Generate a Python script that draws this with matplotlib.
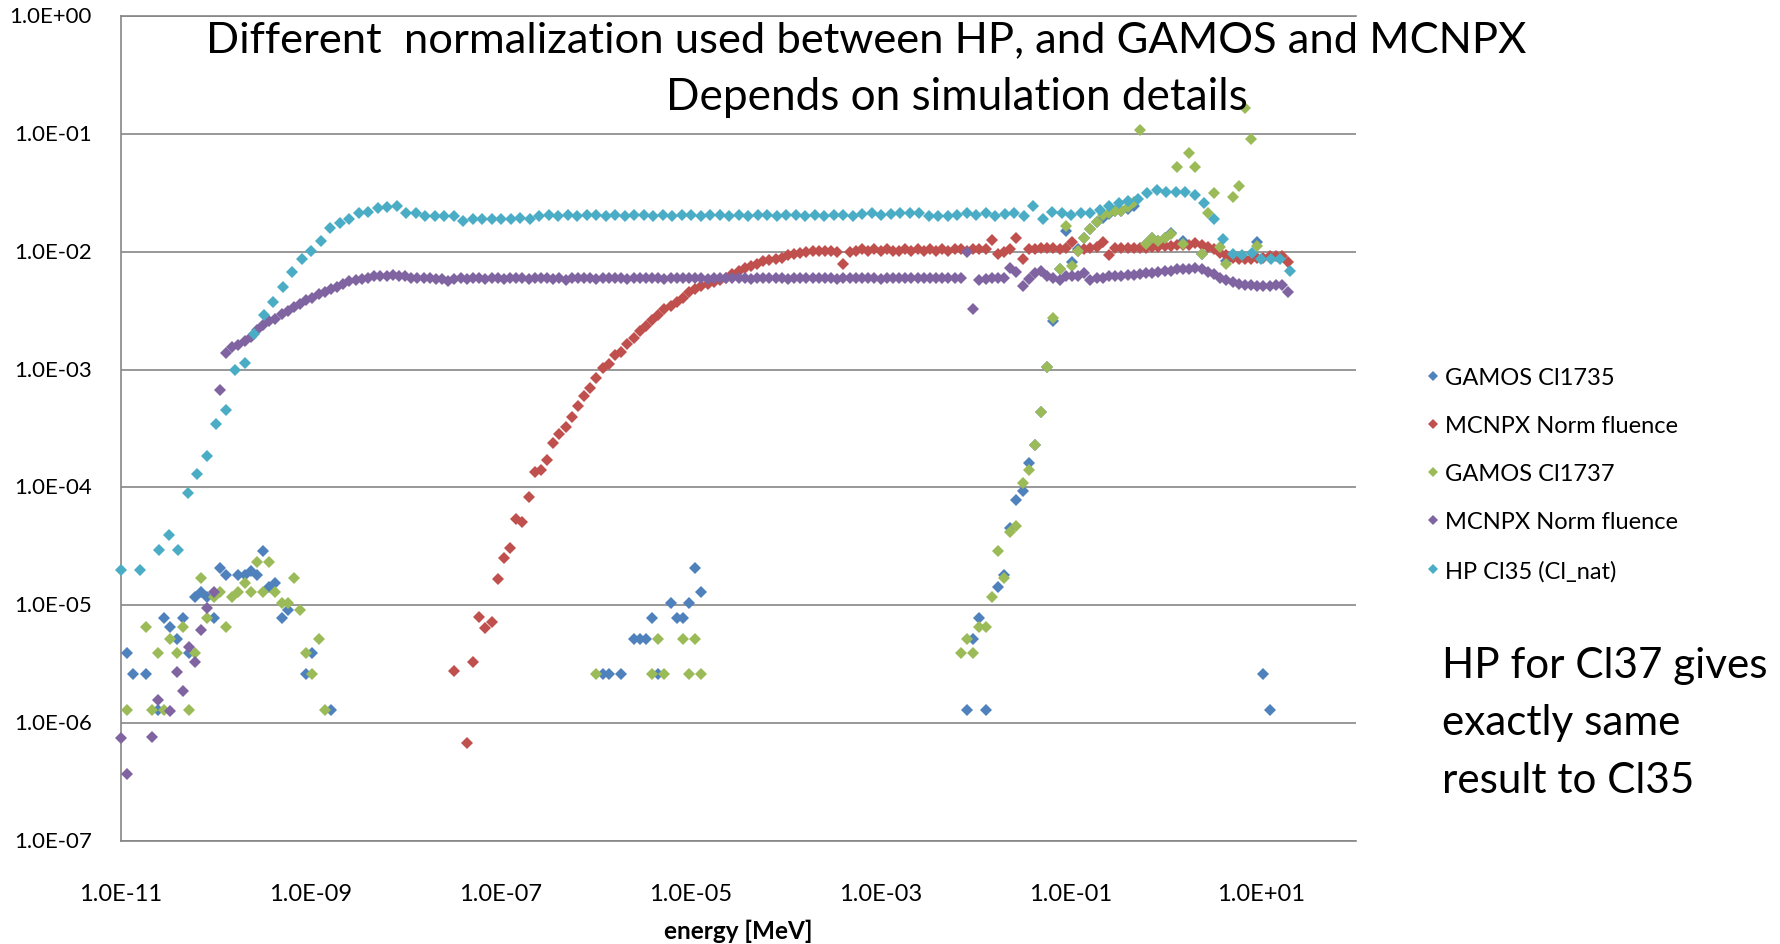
import numpy as np
import matplotlib
matplotlib.use("Agg")
import matplotlib.pyplot as plt
from matplotlib.ticker import FixedLocator, FuncFormatter, NullLocator

plt.rcParams['font.family'] = ['Lato', 'DejaVu Sans']

# ---------------- data ----------------
# GAMOS / MCNPX energy bins: log10(E / MeV) = -11 + 0.065 * bin
bin_log_start = -11.0
bin_log_width = 0.065
# HP energy bins: log10(E / MeV) = -11 + 0.1 * bin
hp_log_start = -11.0
hp_log_width = 0.1

gamos35_bins = [1, 2, 4, 6, 7, 8, 9, 10, 11, 12, 13, 14, 15, 16, 17, 19, 20, 21, 22, 23,
                24, 25, 26, 27, 30, 31, 34,
                78, 79, 81, 83, 84, 85, 86, 87, 89, 90, 91, 92, 93, 94,
                137, 138, 139, 140, 142, 143, 144, 145, 146, 147, 148, 149, 150, 151,
                152, 153, 154, 155, 156, 157, 158, 159, 160, 161, 162, 163, 164,
                166, 167, 168, 169, 170, 172, 175, 179, 184, 185, 186]
gamos35_vals = [3.9e-6, 2.6e-6, 2.6e-6, 1.3e-6, 7.8e-6, 6.5e-6, 5.2e-6, 7.8e-6, 3.9e-6, 1.17e-5,
                1.3e-5, 1.17e-5, 7.8e-6, 2.08e-5, 1.82e-5, 1.82e-5, 1.82e-5, 1.95e-5, 1.82e-5, 2.86e-5,
                1.43e-5, 1.56e-5, 7.8e-6, 9.1e-6, 2.6e-6, 3.9e-6, 1.3e-6,
                2.6e-6, 2.6e-6, 2.6e-6, 5.2e-6, 5.2e-6, 5.2e-6, 7.8e-6, 2.6e-6, 1.04e-5, 7.8e-6,
                7.8e-6, 1.04e-5, 2.08e-5, 1.3e-5,
                1.3e-6, 5.2e-6, 7.8e-6, 1.3e-6, 1.43e-5, 1.82e-5, 4.5e-5, 7.8e-5, 9.3e-5, 1.6e-4,
                2.3e-4, 4.4e-4, 1.05e-3, 2.6e-3,
                7.2e-3, 1.5e-2, 8.1e-3, 1.05e-2, 1.3e-2, 1.55e-2, 1.8e-2, 1.95e-2, 2.1e-2, 2.2e-2,
                2.2e-2, 2.3e-2, 2.45e-2,
                1.17e-2, 1.3e-2, 1.23e-2, 1.3e-2, 1.45e-2, 1.23e-2, 9.5e-3, 8.3e-3, 1.2e-2, 2.6e-6,
                1.3e-6]

gamos37_bins = [1, 4, 5, 6, 7, 8, 9, 10, 11, 12, 13, 14, 15, 16, 17, 18, 19, 20, 21, 22,
                23, 24, 25, 26, 27, 28, 29, 30, 31, 32, 33,
                77, 86, 87, 88, 91, 92, 93, 94,
                136, 137, 138, 139, 140, 141, 142, 143, 144, 145, 146, 147, 148, 149, 150,
                151, 152, 153, 154, 155, 156, 157, 158, 159, 160, 161, 162, 163, 164, 165,
                166, 167, 168, 169, 170, 171, 172, 173, 174, 175, 176, 177, 178, 179, 180,
                181, 182, 183, 184]
gamos37_vals = [1.3e-6, 6.5e-6, 1.3e-6, 3.9e-6, 1.3e-6, 5.2e-6, 3.9e-6, 6.5e-6, 1.3e-6, 3.9e-6,
                1.69e-5, 7.8e-6, 1.17e-5, 1.3e-5, 6.5e-6, 1.17e-5, 1.3e-5, 1.56e-5, 1.3e-5, 2.34e-5,
                1.3e-5, 2.34e-5, 1.3e-5, 1.04e-5, 1.04e-5, 1.69e-5, 9.1e-6, 3.9e-6, 2.6e-6, 5.2e-6,
                1.3e-6,
                2.6e-6, 2.6e-6, 5.2e-6, 2.6e-6, 5.2e-6, 2.6e-6, 5.2e-6, 2.6e-6,
                3.9e-6, 5.2e-6, 3.9e-6, 6.5e-6, 6.5e-6, 1.17e-5, 2.86e-5, 1.69e-5, 4.2e-5, 4.7e-5,
                1.1e-4, 1.4e-4, 2.3e-4, 4.4e-4, 1.05e-3,
                2.75e-3, 7.2e-3, 1.65e-2, 7.6e-3, 1.02e-2, 1.3e-2, 1.55e-2, 1.8e-2, 2.05e-2, 2.15e-2,
                2.2e-2, 2.2e-2, 2.4e-2, 2.65e-2, 1.07e-1,
                1.17e-2, 1.3e-2, 1.23e-2, 1.3e-2, 1.4e-2, 5.2e-2, 1.17e-2, 6.9e-2, 5.2e-2, 9.5e-3,
                2.15e-2, 3.15e-2, 1.1e-2, 7.8e-3, 2.9e-2,
                3.6e-2, 1.66e-1, 9.1e-2, 1.12e-2]

# MCNPX (Cl35 normalised fluence), log10 values, bins 54 .. 189
mcnpx_a_first_bin = 54
mcnpx_a_log10 = [
    -5.56, None, -6.17, -5.48, -5.10, -5.19,
    -5.14, -4.78, -4.60, -4.51, -4.27, -4.29, -4.08, -3.87, -3.85, -3.77,
    -3.62, -3.55, -3.49, -3.40, -3.31, -3.22, -3.16, -3.07, -2.99, -2.95,
    -2.88, -2.85, -2.78, -2.73, -2.67, -2.63, -2.58, -2.54, -2.49, -2.46,
    -2.43, -2.39, -2.34, -2.32, -2.29, -2.27, -2.26, -2.24, -2.22, -2.19,
    -2.16, -2.14, -2.12, -2.10, -2.08, -2.07, -2.06, -2.05, -2.03, -2.02,
    -2.01, -2.00, -1.99, -1.99, -1.99, -1.99, -2.00, -2.10, -2.00, -1.99,
    -1.98, -1.99, -1.98, -1.99, -1.98, -1.99, -1.99, -1.98, -1.99, -1.98,
    -1.99, -1.98, -1.99, -1.98, -1.99, -1.98, -1.98, -1.99, -1.98, -1.98,
    -1.98, -1.90, -2.02, -2.00, -1.98, -1.88, -2.06, -1.98, -1.98, -1.97,
    -1.97, -1.97, -1.98, -1.97, -1.92, -1.99, -1.98, -1.97, -1.96, -1.92,
    -2.03, -1.97, -1.97, -1.97, -1.97, -1.97, -1.97, -1.96, -1.96, -1.95,
    -1.95, -1.94, -1.94, -1.94, -1.93, -1.94, -1.96, -1.98, -2.01, -2.03,
    -2.05, -2.06, -2.06, -2.06, -2.05, -2.05, -2.04, -2.04, -2.04, -2.09]

# MCNPX (second normalised fluence), log10 values, bins 0 .. 189
mcnpx_b_first_bin = 0
mcnpx_b_log10 = [
    -6.13, -6.43, None, None, None, -6.12, -5.80, None, -5.90, -5.57,
    -5.73, -5.35, -5.48, -5.21, -5.02, -4.89, -3.17, -2.86, -2.81, -2.79,
    -2.76, -2.72, -2.66, -2.62, -2.59, -2.57, -2.53, -2.50, -2.47, -2.44,
    -2.41, -2.39, -2.36, -2.34, -2.32, -2.30, -2.27, -2.25, -2.24, -2.23,
    -2.22, -2.21, -2.21, -2.21, -2.20, -2.21, -2.21, -2.22, -2.22, -2.22,
    -2.22, -2.23, -2.23, -2.25, -2.23, -2.22, -2.23, -2.22, -2.22, -2.23,
    -2.22, -2.22, -2.23, -2.22, -2.22, -2.22, -2.23, -2.22, -2.22, -2.22,
    -2.23, -2.22, -2.24, -2.22, -2.22, -2.22, -2.22, -2.23, -2.22, -2.22,
    -2.22, -2.22, -2.23, -2.22, -2.22, -2.22, -2.22, -2.22, -2.23, -2.22,
    -2.22, -2.22, -2.22, -2.22, -2.22, -2.23, -2.22, -2.22, -2.22, -2.22,
    -2.22, -2.22, -2.23, -2.22, -2.22, -2.22, -2.22, -2.22, -2.23, -2.22,
    -2.22, -2.22, -2.22, -2.22, -2.22, -2.22, -2.23, -2.22, -2.22, -2.22,
    -2.22, -2.22, -2.22, -2.23, -2.22, -2.22, -2.22, -2.22, -2.22, -2.22,
    -2.22, -2.22, -2.22, -2.22, -2.22, -2.22, -2.22, -2.00, -2.49, -2.24,
    -2.23, -2.22, -2.22, -2.22, -2.14, -2.17, -2.29, -2.23, -2.18, -2.16,
    -2.21, -2.22, -2.24, -2.21, -2.21, -2.21, -2.18, -2.24, -2.22, -2.22,
    -2.21, -2.21, -2.21, -2.20, -2.20, -2.19, -2.18, -2.18, -2.17, -2.16,
    -2.16, -2.15, -2.15, -2.15, -2.14, -2.15, -2.17, -2.19, -2.22, -2.24,
    -2.26, -2.27, -2.28, -2.28, -2.29, -2.29, -2.29, -2.28, -2.28, -2.34]

# HP Cl35 (Cl_nat), log10 values, HP bins 0 .. 123
hp_log10 = [
    -4.70, None, -4.70, None, -4.53, -4.40, -4.53, -4.05, -3.89, -3.73,
    -3.46, -3.34, -3.00, -2.94, -2.70, -2.54, -2.43, -2.30, -2.17, -2.06,
    -1.99, -1.91, -1.80, -1.76, -1.72, -1.67, -1.66, -1.63, -1.62, -1.61,
    -1.67, -1.67, -1.70, -1.70, -1.70, -1.70, -1.74, -1.72, -1.72, -1.72,
    -1.72, -1.72, -1.71, -1.72, -1.70, -1.69, -1.70, -1.69, -1.70, -1.69,
    -1.69, -1.70, -1.69, -1.70, -1.69, -1.69, -1.70, -1.69, -1.70, -1.69,
    -1.69, -1.70, -1.69, -1.69, -1.70, -1.69, -1.70, -1.69, -1.69, -1.70,
    -1.69, -1.69, -1.70, -1.69, -1.70, -1.69, -1.69, -1.70, -1.68, -1.67,
    -1.69, -1.68, -1.67, -1.67, -1.67, -1.70, -1.70, -1.70, -1.69, -1.67,
    -1.69, -1.67, -1.70, -1.68, -1.67, -1.70, -1.61, -1.72, -1.66, -1.67,
    -1.69, -1.67, -1.67, -1.65, -1.61, -1.59, -1.57, -1.55, -1.50, -1.48,
    -1.49, -1.49, -1.49, -1.52, -1.59, -1.72, -1.89, -2.02, -2.03, -2.01,
    -2.06, -2.06, -2.06, -2.16]

series_labels = ['GAMOS Cl1735', 'MCNPX Norm fluence', 'GAMOS Cl1737',
                 'MCNPX Norm fluence', 'HP Cl35 (Cl_nat)']
series_colors = ['#4F81BD', '#C0504D', '#9BBB59', '#8064A2', '#4BACC6']

x_tick_exponents = [-11, -9, -7, -5, -3, -1, 1]
y_tick_exponents = [-7, -6, -5, -4, -3, -2, -1, 0]

title_line1 = 'Different  normalization used between HP, and GAMOS and MCNPX'
title_line2 = 'Depends on simulation details'
note_lines = ['HP for Cl37 gives', 'exactly same', 'result to Cl35']
x_label = 'energy [MeV]'


# ---------------- helpers ----------------
def bin_energy(bins, start, width):
    return 10.0 ** (start + width * np.asarray(bins, dtype=float))


def log_series(first_bin, logs, start, width):
    bins = first_bin + np.arange(len(logs))
    vals = np.array([np.nan if v is None else 10.0 ** v for v in logs])
    return bin_energy(bins, start, width), vals


W, H = 1781, 945
fig = plt.figure(figsize=(W / 100, H / 100), dpi=100)
ax_left, ax_right, ax_top, ax_bottom = 121, 1356, 17, 842
ax = fig.add_axes([ax_left / W, 1 - ax_bottom / H, (ax_right - ax_left) / W, (ax_bottom - ax_top) / H])

datasets = [
    (bin_energy(gamos35_bins, bin_log_start, bin_log_width), np.array(gamos35_vals)),
    log_series(mcnpx_a_first_bin, mcnpx_a_log10, bin_log_start, bin_log_width),
    (bin_energy(gamos37_bins, bin_log_start, bin_log_width), np.array(gamos37_vals)),
    log_series(mcnpx_b_first_bin, mcnpx_b_log10, bin_log_start, bin_log_width),
    log_series(0, hp_log10, hp_log_start, hp_log_width),
]

for (x, y), lab, col in zip(datasets, series_labels, series_colors):
    ax.plot(x, y, linestyle='none', marker='D', markersize=6.2, markeredgewidth=0,
            color=col, label=lab, clip_on=False, zorder=3)

ax.set_xscale('log')
ax.set_yscale('log')
ax.set_xlim(1e-11, 1e2)
ax.set_ylim(1e-7, 1e0)

ax.xaxis.set_major_locator(FixedLocator([10.0 ** k for k in x_tick_exponents]))
ax.yaxis.set_major_locator(FixedLocator([10.0 ** k for k in y_tick_exponents]))
ax.xaxis.set_minor_locator(NullLocator())
ax.yaxis.set_minor_locator(NullLocator())
fmt = FuncFormatter(lambda v, p: f"{v:.1E}")
ax.xaxis.set_major_formatter(fmt)
ax.yaxis.set_major_formatter(fmt)
ax.tick_params(axis='both', length=0, colors='black')
ax.tick_params(axis='x', pad=30, labelsize=17)
ax.tick_params(axis='y', pad=21, labelsize=16)
for t in ax.yaxis.get_major_ticks():
    t.label1.set_va('center')

grid_col = '#868686'
ax.yaxis.grid(True, color=grid_col, linewidth=1.2)
ax.xaxis.grid(False)
ax.set_axisbelow(True)
for side in ['left', 'bottom', 'top']:
    ax.spines[side].set_color(grid_col)
    ax.spines[side].set_linewidth(1.2)
ax.spines['right'].set_visible(False)

ax.set_xlabel(x_label, fontsize=17.5, fontweight='bold')
ax.xaxis.set_label_coords(0.5, (ax_bottom - 931) / (ax_bottom - ax_top))
ax.xaxis.label.set_va('center')

fig.legend(loc='upper left', bbox_to_anchor=(1426 / W, 1 - 368 / H), frameon=False,
           fontsize=17, handlelength=0.6, handletextpad=0.22, labelspacing=1.15,
           borderpad=0, borderaxespad=0, numpoints=1, markerscale=0.9)

fig.text(866 / W, 1 - 40 / H, title_line1, fontsize=31.3, ha='center', va='center')
fig.text(957 / W, 1 - 97 / H, title_line2, fontsize=31.8, ha='center', va='center')
for k, line in enumerate(note_lines):
    fig.text(1442 / W, 1 - (666 + 57.5 * k) / H, line, fontsize=30.4, ha='left', va='center')

fig.savefig('out.png', dpi=100)
